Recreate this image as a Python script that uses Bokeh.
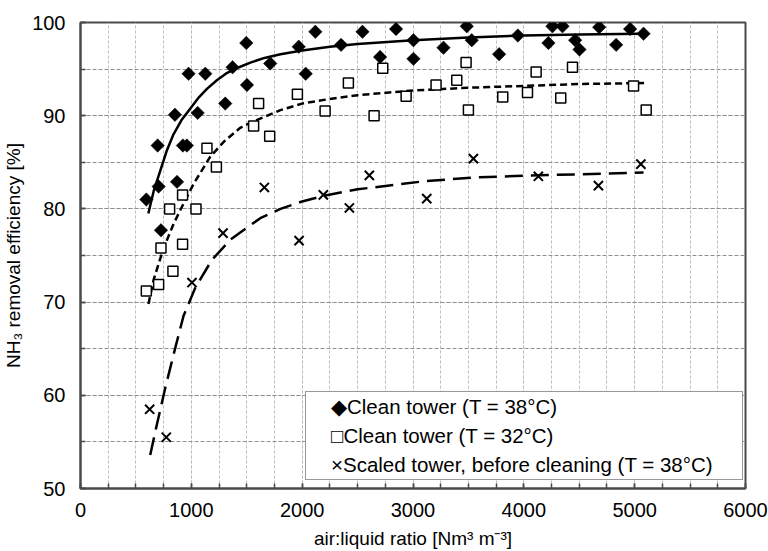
import math
from bokeh.plotting import figure
from bokeh.models import FixedTicker, Range1d, Legend, LegendItem
from bokeh.embed import file_html
from bokeh.resources import INLINE

# ---- data ----
clean38_x = [594, 705, 696, 726, 871, 852, 924, 960, 975, 1057, 1126, 1306, 1372, 1496, 1502,
             1712, 1969, 2032, 2119, 2351, 2544, 2703, 2847, 3004, 3004, 3275, 3485, 3530,
             3777, 3946, 4222, 4258, 4349, 4463, 4502, 4680, 4833, 4959, 5080]
clean38_y = [81.0, 82.4, 86.8, 77.7, 82.9, 90.1, 86.8, 86.8, 94.5, 90.3, 94.5, 91.3, 95.2, 97.8, 93.3,
             95.6, 97.4, 94.5, 99.0, 97.6, 99.0, 96.3, 99.3, 98.1, 96.1, 97.3, 99.6, 98.1,
             96.6, 98.6, 97.8, 99.6, 99.6, 98.1, 97.1, 99.5, 97.6, 99.3, 98.8]

clean32_x = [594, 705, 726, 804, 834, 921, 921, 1042, 1141, 1226, 1562, 1607, 1707, 1957, 2207,
             2417, 2649, 2727, 2938, 3208, 3395, 3479, 3500, 3810, 4033, 4111, 4333, 4439, 4990, 5104]
clean32_y = [71.2, 71.9, 75.8, 80.0, 73.3, 76.2, 81.5, 80.0, 86.5, 84.5, 88.9, 91.3, 87.8, 92.3, 90.5,
             93.5, 90.0, 95.1, 92.1, 93.3, 93.8, 95.7, 90.6, 92.0, 92.5, 94.7, 91.9, 95.2, 93.2, 90.6]

scaled38_x = [624, 774, 1006, 1286, 1659, 1972, 2191, 2426, 2606, 3124, 3545, 4131, 4673, 5056]
scaled38_y = [58.5, 55.5, 72.1, 77.4, 82.3, 76.6, 81.5, 80.1, 83.6, 81.1, 85.4, 83.5, 82.5, 84.8]

# trend curves
fit38_x = [612, 660, 720, 780, 839, 910, 993, 1070, 1143, 1230, 1324, 1430, 1533, 1660, 1804,
           2000, 2250, 2500, 3000, 3500, 4000, 4500, 5050]
fit38_y = [79.5, 81.9, 84.1, 86.3, 88.0, 89.5, 90.8, 92.0, 92.9, 93.8, 94.6, 95.2, 95.7, 96.2, 96.6,
           97.0, 97.4, 97.7, 98.1, 98.4, 98.6, 98.7, 98.8]

fit32_x = [613, 660, 750, 840, 931, 1021, 1171, 1292, 1442, 1563, 1804, 2000, 2250, 2500, 3000,
           3500, 4000, 4500, 5095]
fit32_y = [69.8, 72.4, 75.8, 78.4, 80.6, 82.7, 85.6, 87.2, 88.7, 89.4, 90.6, 91.3, 91.8, 92.2, 92.7,
           93.0, 93.2, 93.4, 93.5]

fitsc_x = [629, 688, 763, 853, 929, 1034, 1184, 1352, 1503, 1622, 1804, 2000, 2191, 2500, 3124,
           3600, 4131, 5080]
fitsc_y = [53.6, 56.8, 60.7, 65.0, 68.5, 71.5, 74.5, 76.7, 78.0, 79.0, 80.0, 80.8, 81.4, 82.1, 83.0,
           83.4, 83.6, 83.9]

x_ticks = [0, 1000, 2000, 3000, 4000, 5000, 6000]
x_minor = list(range(0, 6001, 250))
y_ticks = [50, 60, 70, 80, 90, 100]
y_minor = list(range(50, 101, 5))

labels = ["◆Clean tower (T = 38°C)", "□Clean tower (T = 32°C)",
          "×Scaled tower, before cleaning (T = 38°C)"]

FONT = "Liberation Sans"
DARK = "#4a4a4a"

p = figure(width=768, height=551, output_backend="svg", toolbar_location=None,
           x_range=Range1d(0, 6000), y_range=Range1d(50, 100),
           min_border_left=80, min_border_right=23, min_border_top=22, min_border_bottom=62)
p.background_fill_color = "white"
p.border_fill_color = "white"
p.outline_line_color = DARK
p.outline_line_width = 2

p.xaxis.ticker = FixedTicker(ticks=x_ticks, minor_ticks=x_minor)
p.yaxis.ticker = FixedTicker(ticks=y_ticks, minor_ticks=y_minor)

for ax in (p.xaxis, p.yaxis):
    ax.axis_line_color = DARK
    ax.axis_line_width = 2
    ax.major_tick_in = 5
    ax.major_tick_out = 0
    ax.minor_tick_in = 5
    ax.minor_tick_out = 0
    ax.major_tick_line_color = DARK
    ax.minor_tick_line_color = DARK
    ax.major_tick_line_width = 1.5
    ax.minor_tick_line_width = 1.5
    ax.major_label_text_font = FONT
    ax.major_label_text_font_size = "20px"
    ax.major_label_text_color = "black"
    ax.axis_label_text_font = FONT
    ax.axis_label_text_font_size = "19px"
    ax.axis_label_text_font_style = "normal"
    ax.axis_label_text_color = "black"

p.xaxis.axis_label = "air:liquid ratio [Nm³ m⁻³]"
p.yaxis.axis_label = "NH₃ removal efficiency [%]"
p.xaxis.major_label_standoff = 14
p.yaxis.major_label_standoff = 15
p.xaxis.axis_label_standoff = 8
p.yaxis.axis_label_standoff = 5

p.xgrid.grid_line_color = "#bdbdbd"
p.xgrid.grid_line_dash = "3 2"
p.xgrid.grid_line_width = 1
p.xgrid.minor_grid_line_color = "#bdbdbd"
p.xgrid.minor_grid_line_dash = "3 2"
p.xgrid.minor_grid_line_width = 1
p.ygrid.grid_line_color = "#8f8f8f"
p.ygrid.grid_line_dash = "4 2"
p.ygrid.grid_line_width = 1
p.ygrid.minor_grid_line_color = "#8f8f8f"
p.ygrid.minor_grid_line_dash = "4 2"
p.ygrid.minor_grid_line_width = 1

p.line(fit38_x, fit38_y, line_color="black", line_width=2.5)
p.line(fit32_x, fit32_y, line_color="black", line_width=2.5, line_dash="7 4")
p.line(fitsc_x, fitsc_y, line_color="black", line_width=2.5, line_dash="18 8")

r1 = p.scatter(clean38_x, clean38_y, marker="square", angle=math.pi / 4, size=9.5,
               fill_color="black", line_color="black", line_width=0.5)
r2 = p.scatter(clean32_x, clean32_y, marker="square", size=10,
               fill_color="white", line_color="black", line_width=1.5)
r3 = p.scatter(scaled38_x, scaled38_y, marker="x", size=13,
               line_color="black", line_width=2)

# legend symbols are written as characters in the labels (as in the reference),
# so the legend's own glyph slot is left blank
blank = p.scatter(x=[], y=[], marker="square", fill_alpha=0, line_alpha=0)

legend = Legend(items=[LegendItem(label=lab, renderers=[blank]) for lab in labels],
                location=(225, 8))
legend.padding = 0
legend.spacing = 0
legend.margin = 0
legend.glyph_width = 25
legend.glyph_height = 29
legend.label_height = 29
legend.label_standoff = 0
legend.label_width = 411
legend.label_text_font = FONT
legend.label_text_font_size = "20.5px"
legend.label_text_color = "black"
legend.border_line_color = "#333333"
legend.border_line_width = 1.5
legend.background_fill_color = "white"
legend.background_fill_alpha = 1.0
p.add_layout(legend, "center")

open("out.html", "w").write(file_html(p, INLINE))
